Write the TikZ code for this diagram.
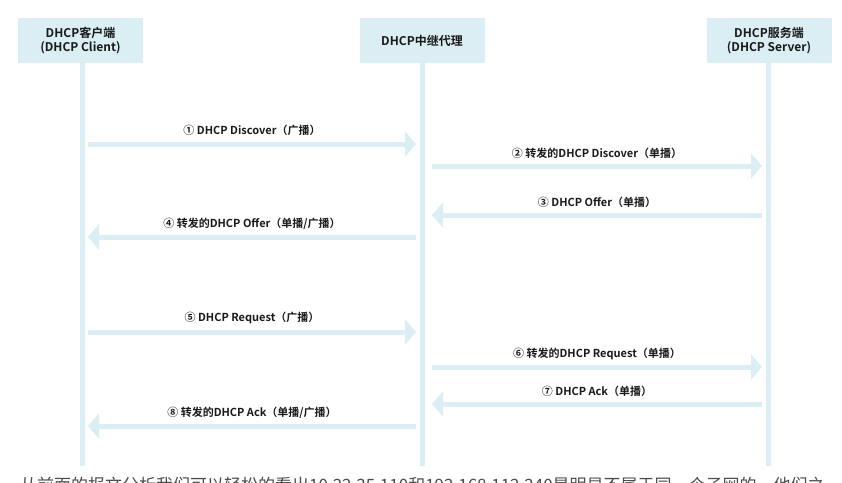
\documentclass[tikz,border=0pt]{standalone}
\usepackage{fontspec}
\setmainfont{Noto Sans CJK SC}
\newfontfamily\cjkb{Noto Sans CJK SC Bold}
\newfontfamily\cjkr{Noto Sans CJK SC}
\usetikzlibrary{arrows.meta}
\definecolor{lb}{HTML}{DAEEF4}
\definecolor{txt}{HTML}{1A1A1A}
\tikzset{
  actor/.style={fill=lb, draw=none, minimum width=125pt, minimum height=45pt, inner sep=0pt,
    align=center, font=\cjkb\fontsize{12}{13.5}\selectfont, text=txt},
  life/.style={draw=lb, line width=5pt},
  msg/.style={draw=lb, line width=5pt, -{Triangle[length=11pt,width=25pt]}, shorten >=0pt},
  lbl/.style={font=\cjkb\fontsize{11}{13}\selectfont, text=txt, inner sep=0pt}
}
\begin{document}
\begin{tikzpicture}[x=1pt,y=-1pt]
\clip (0,0) rectangle (842,482);
\fill[white] (0,0) rectangle (842,482);
% actors
\node[actor] (cli) at (80.5,40.5) {DHCP客户端\\ (DHCP Client)};
\node[actor] (rel) at (422,40.5) {DHCP中继代理};
\node[actor] (srv) at (769,40.5) {DHCP服务端\\(DHCP Server)};
% lifeline ends
\coordinate (cliE) at (82,466);
\coordinate (relE) at (422,466);
\coordinate (srvE) at (768,466);
\draw[life] (cli.south -| cliE) -- (cliE);
\draw[life] (rel.south -| relE) -- (relE);
\draw[life] (srv.south -| srvE) -- (srvE);
% message end points
\coordinate (a1s) at (88,144);  \coordinate (a1e) at (416,144);
\coordinate (a2s) at (432,166); \coordinate (a2e) at (762,166);
\coordinate (a3s) at (762,215); \coordinate (a3e) at (432,215);
\coordinate (a4s) at (416,237); \coordinate (a4e) at (88,237);
\coordinate (a5s) at (88,332);  \coordinate (a5e) at (416,332);
\coordinate (a6s) at (432,367); \coordinate (a6e) at (762,367);
\coordinate (a7s) at (762,404); \coordinate (a7e) at (432,404);
\coordinate (a8s) at (416,426); \coordinate (a8e) at (88,426);
\draw[msg] (a1s) -- (a1e) node[lbl, midway, yshift=14pt] {① DHCP Discover（广播）};
\draw[msg] (a2s) -- (a2e) node[lbl, midway, yshift=13pt] {② 转发的DHCP Discover（单播）};
\draw[msg] (a3s) -- (a3e) node[lbl, midway, yshift=13pt] {③ DHCP Offer（单播）};
\draw[msg] (a4s) -- (a4e) node[lbl, midway, yshift=13pt] {④ 转发的DHCP Offer（单播/广播）};
\draw[msg] (a5s) -- (a5e) node[lbl, midway, yshift=14pt] {⑤ DHCP Request（广播）};
\draw[msg] (a6s) -- (a6e) node[lbl, midway, yshift=13pt] {⑥ 转发的DHCP Request（单播）};
\draw[msg] (a7s) -- (a7e) node[lbl, midway, yshift=13pt] {⑦ DHCP Ack（单播）};
\draw[msg] (a8s) -- (a8e) node[lbl, midway, yshift=13pt] {⑧ 转发的DHCP Ack（单播/广播）};
% clipped page text below
\node[anchor=base west, inner sep=0pt, font=\cjkr\fontsize{17}{20}\selectfont, text=black!70] (para) at (20,491)
  {从前面的报文分析我们可以轻松的看出10.22.35.110和192.168.112.240是明显不属于同一个子网的，他们之};
\end{tikzpicture}
\end{document}
